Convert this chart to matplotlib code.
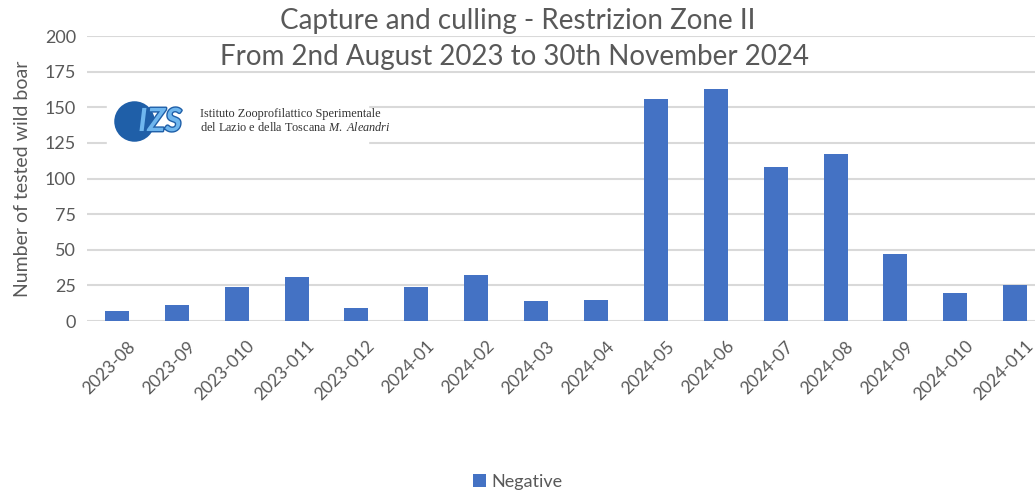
import numpy as np
import matplotlib.pyplot as plt
import matplotlib.transforms as mtransforms
import matplotlib.patheffects as pe

months = ["2023-08", "2023-09", "2023-010", "2023-011", "2023-012", "2024-01",
          "2024-02", "2024-03", "2024-04", "2024-05", "2024-06", "2024-07",
          "2024-08", "2024-09", "2024-010", "2024-011"]
negative = [7, 11, 24, 31, 9, 24, 32, 14, 15, 156, 163, 108, 117, 47, 20, 25]
yticks = [0, 25, 50, 75, 100, 125, 150, 175, 200]

plt.rcParams["font.family"] = ["Lato", "DejaVu Sans"]
plt.rcParams["mathtext.fontset"] = "custom"
plt.rcParams["mathtext.rm"] = "Liberation Serif"
plt.rcParams["mathtext.it"] = "Liberation Serif:italic"
gray = "#595959"

fig = plt.figure(figsize=(10.35, 4.95), dpi=100)
ax = fig.add_axes([0.084, 0.3515, 0.916, 0.5757])

x = np.arange(len(months))
ax.bar(x, negative, width=0.4, color="#4472C4", label="Negative", zorder=3)

ax.set_xlim(-0.5, 15.33)
ax.set_ylim(0, 200)
ax.set_yticks(yticks)
ax.set_yticklabels([str(t) for t in yticks], fontsize=13, color=gray)
ax.set_xticks(x)
ax.set_xticklabels(months, rotation=45, ha="right", rotation_mode="anchor",
                   fontsize=12.5, color=gray)
ax.tick_params(axis="both", length=0, pad=8)
shift = mtransforms.ScaledTranslation(10 / 100, -6 / 100, fig.dpi_scale_trans)
for lbl in ax.get_xticklabels():
    lbl.set_transform(lbl.get_transform() + shift)
ax.grid(axis="y", color="#d9d9d9", linewidth=1.5, zorder=0)
for s in ax.spines.values():
    s.set_visible(False)
ax.set_ylabel("Number of tested wild boar", fontsize=14, color=gray, labelpad=10)

fig.text(0.5, 0.958, "Capture and culling - Restrizion Zone II", ha="center",
         va="center", fontsize=20, color=gray)
fig.text(0.497, 0.885, "From 2nd August 2023 to 30th November 2024", ha="center",
         va="center", fontsize=20, color=gray)

# logo stand-in
ax.axhspan(122, 155, xmin=0.021, xmax=0.296, color="white", zorder=4)
ax.scatter([0.28], [140.4], s=850, color="#1f5fa8", zorder=5, linewidths=0)
ax.text(0.72, 140.0, "IZS", fontsize=23, fontweight="bold", style="italic",
        color="#6fb6ee", ha="center", va="center", zorder=6,
        path_effects=[pe.withStroke(linewidth=2, foreground="#1f5fa8")])
ax.text(1.386, 140.5, "Istituto Zooprofilattico Sperimentale\n"
        "del Lazio e della Toscana $\\it{M.\\ Aleandri}$",
        fontsize=8.8, family="Liberation Serif", color="#333333", va="center",
        ha="left", zorder=6, linespacing=1.05)

fig.legend(loc="center", bbox_to_anchor=(0.5, 0.026), frameon=False,
           fontsize=13, labelcolor=gray, handlelength=0.7, handleheight=0.7,
           handletextpad=0.3)

fig.savefig("out.png", dpi=100)
